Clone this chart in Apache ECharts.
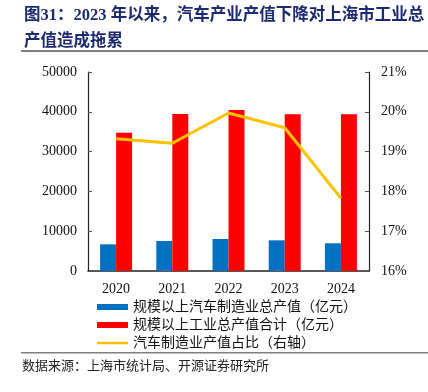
<!DOCTYPE html>
<html><head><meta charset="utf-8">
<script src="https://cdn.jsdelivr.net/npm/echarts@6/dist/echarts.min.js"></script>
<style>html,body{margin:0;padding:0;background:#fff}#c{width:428px;height:392px}</style>
</head><body><div id="c"></div>
<script>
const categories = ['2020', '2021', '2022', '2023', '2024'];
const autoOutput = [6700, 7540, 8040, 7710, 6960];
const industryTotal = [34750, 39450, 40450, 39370, 39370];
const autoShare = [19.32, 19.21, 19.97, 19.60, 17.83];
const leftTicks = [0, 50000, 10000];
const rightTicks = [16, 21, 1];
const seriesNames = ['规模以上汽车制造业总产值（亿元）', '规模以上工业总产值合计（亿元）', '汽车制造业产值占比（右轴）'];
const titleText = '图31：2023 年以来，汽车产业产值下降对上海市工业总\n产值造成拖累';
const sourceText = '数据来源：上海市统计局、开源证券研究所';

const serif = '"Liberation Serif","Times New Roman","Noto Sans CJK SC",serif';
const chart = echarts.init(document.getElementById('c'), null, {renderer: 'canvas'});
chart.setOption({
  animation: false,
  backgroundColor: '#fff',
  title: {
    text: titleText, left: 19, top: -2,
    textStyle: {fontFamily: serif, fontSize: 16.5, fontWeight: 'bold', color: '#1c2a6e', lineHeight: 26}
  },
  graphic: [
    {type: 'rect', shape: {x: 21, y: 50, width: 407, height: 2}, style: {fill: '#7f7f7f'}},
    {type: 'rect', shape: {x: 21, y: 352, width: 407, height: 1.5}, style: {fill: '#7f7f7f'}},
    {type: 'text', left: 22, top: 360, style: {text: sourceText, font: '13px ' + serif, fill: '#222'}}
  ],
  legend: {
    orient: 'vertical', left: 92, top: 295, itemWidth: 31, itemHeight: 6, itemGap: 4,
    symbolKeepAspect: true,
    textStyle: {fontFamily: serif, fontSize: 14, color: '#111'},
    data: [
      {name: seriesNames[0], icon: 'rect'},
      {name: seriesNames[1], icon: 'rect'},
      {name: seriesNames[2], icon: 'path://M0,0L31,0L31,2.5L0,2.5Z', itemStyle: {color: '#FFC000'}}
    ]
  },
  grid: {left: 88, right: 59, top: 72, bottom: 121},
  xAxis: {
    type: 'category', data: categories,
    axisLine: {lineStyle: {color: '#222', width: 1.5}},
    axisTick: {inside: true, length: 4, lineStyle: {color: '#555'}},
    axisLabel: {fontFamily: serif, fontSize: 14, color: '#111', margin: 11}
  },
  yAxis: [
    {
      type: 'value', min: leftTicks[0], max: leftTicks[1], interval: leftTicks[2],
      splitLine: {show: false},
      axisLine: {show: true, lineStyle: {color: '#222', width: 1.2}},
      axisTick: {show: true, inside: true, length: 4, lineStyle: {color: '#555'}},
      axisLabel: {fontFamily: serif, fontSize: 14, color: '#111', margin: 11, formatter: (v) => String(v)}
    },
    {
      type: 'value', min: rightTicks[0], max: rightTicks[1], interval: rightTicks[2],
      splitLine: {show: false},
      axisLine: {show: true, lineStyle: {color: '#222', width: 1.2}},
      axisTick: {show: true, inside: true, length: 4, lineStyle: {color: '#555'}},
      axisLabel: {fontFamily: serif, fontSize: 14, color: '#111', margin: 12, formatter: '{value}%'}
    }
  ],
  series: [
    {name: seriesNames[0], type: 'bar', data: autoOutput, barWidth: 16, barGap: '0%',
     itemStyle: {color: '#0070C0'}},
    {name: seriesNames[1], type: 'bar', data: industryTotal, barWidth: 16, barGap: '0%',
     itemStyle: {color: '#FF0000'}},
    {name: seriesNames[2], type: 'line', yAxisIndex: 1, data: autoShare, symbol: 'none',
     lineStyle: {color: '#FFC000', width: 3}, itemStyle: {color: '#FFC000'}, z: 5}
  ]
});
</script></body></html>
